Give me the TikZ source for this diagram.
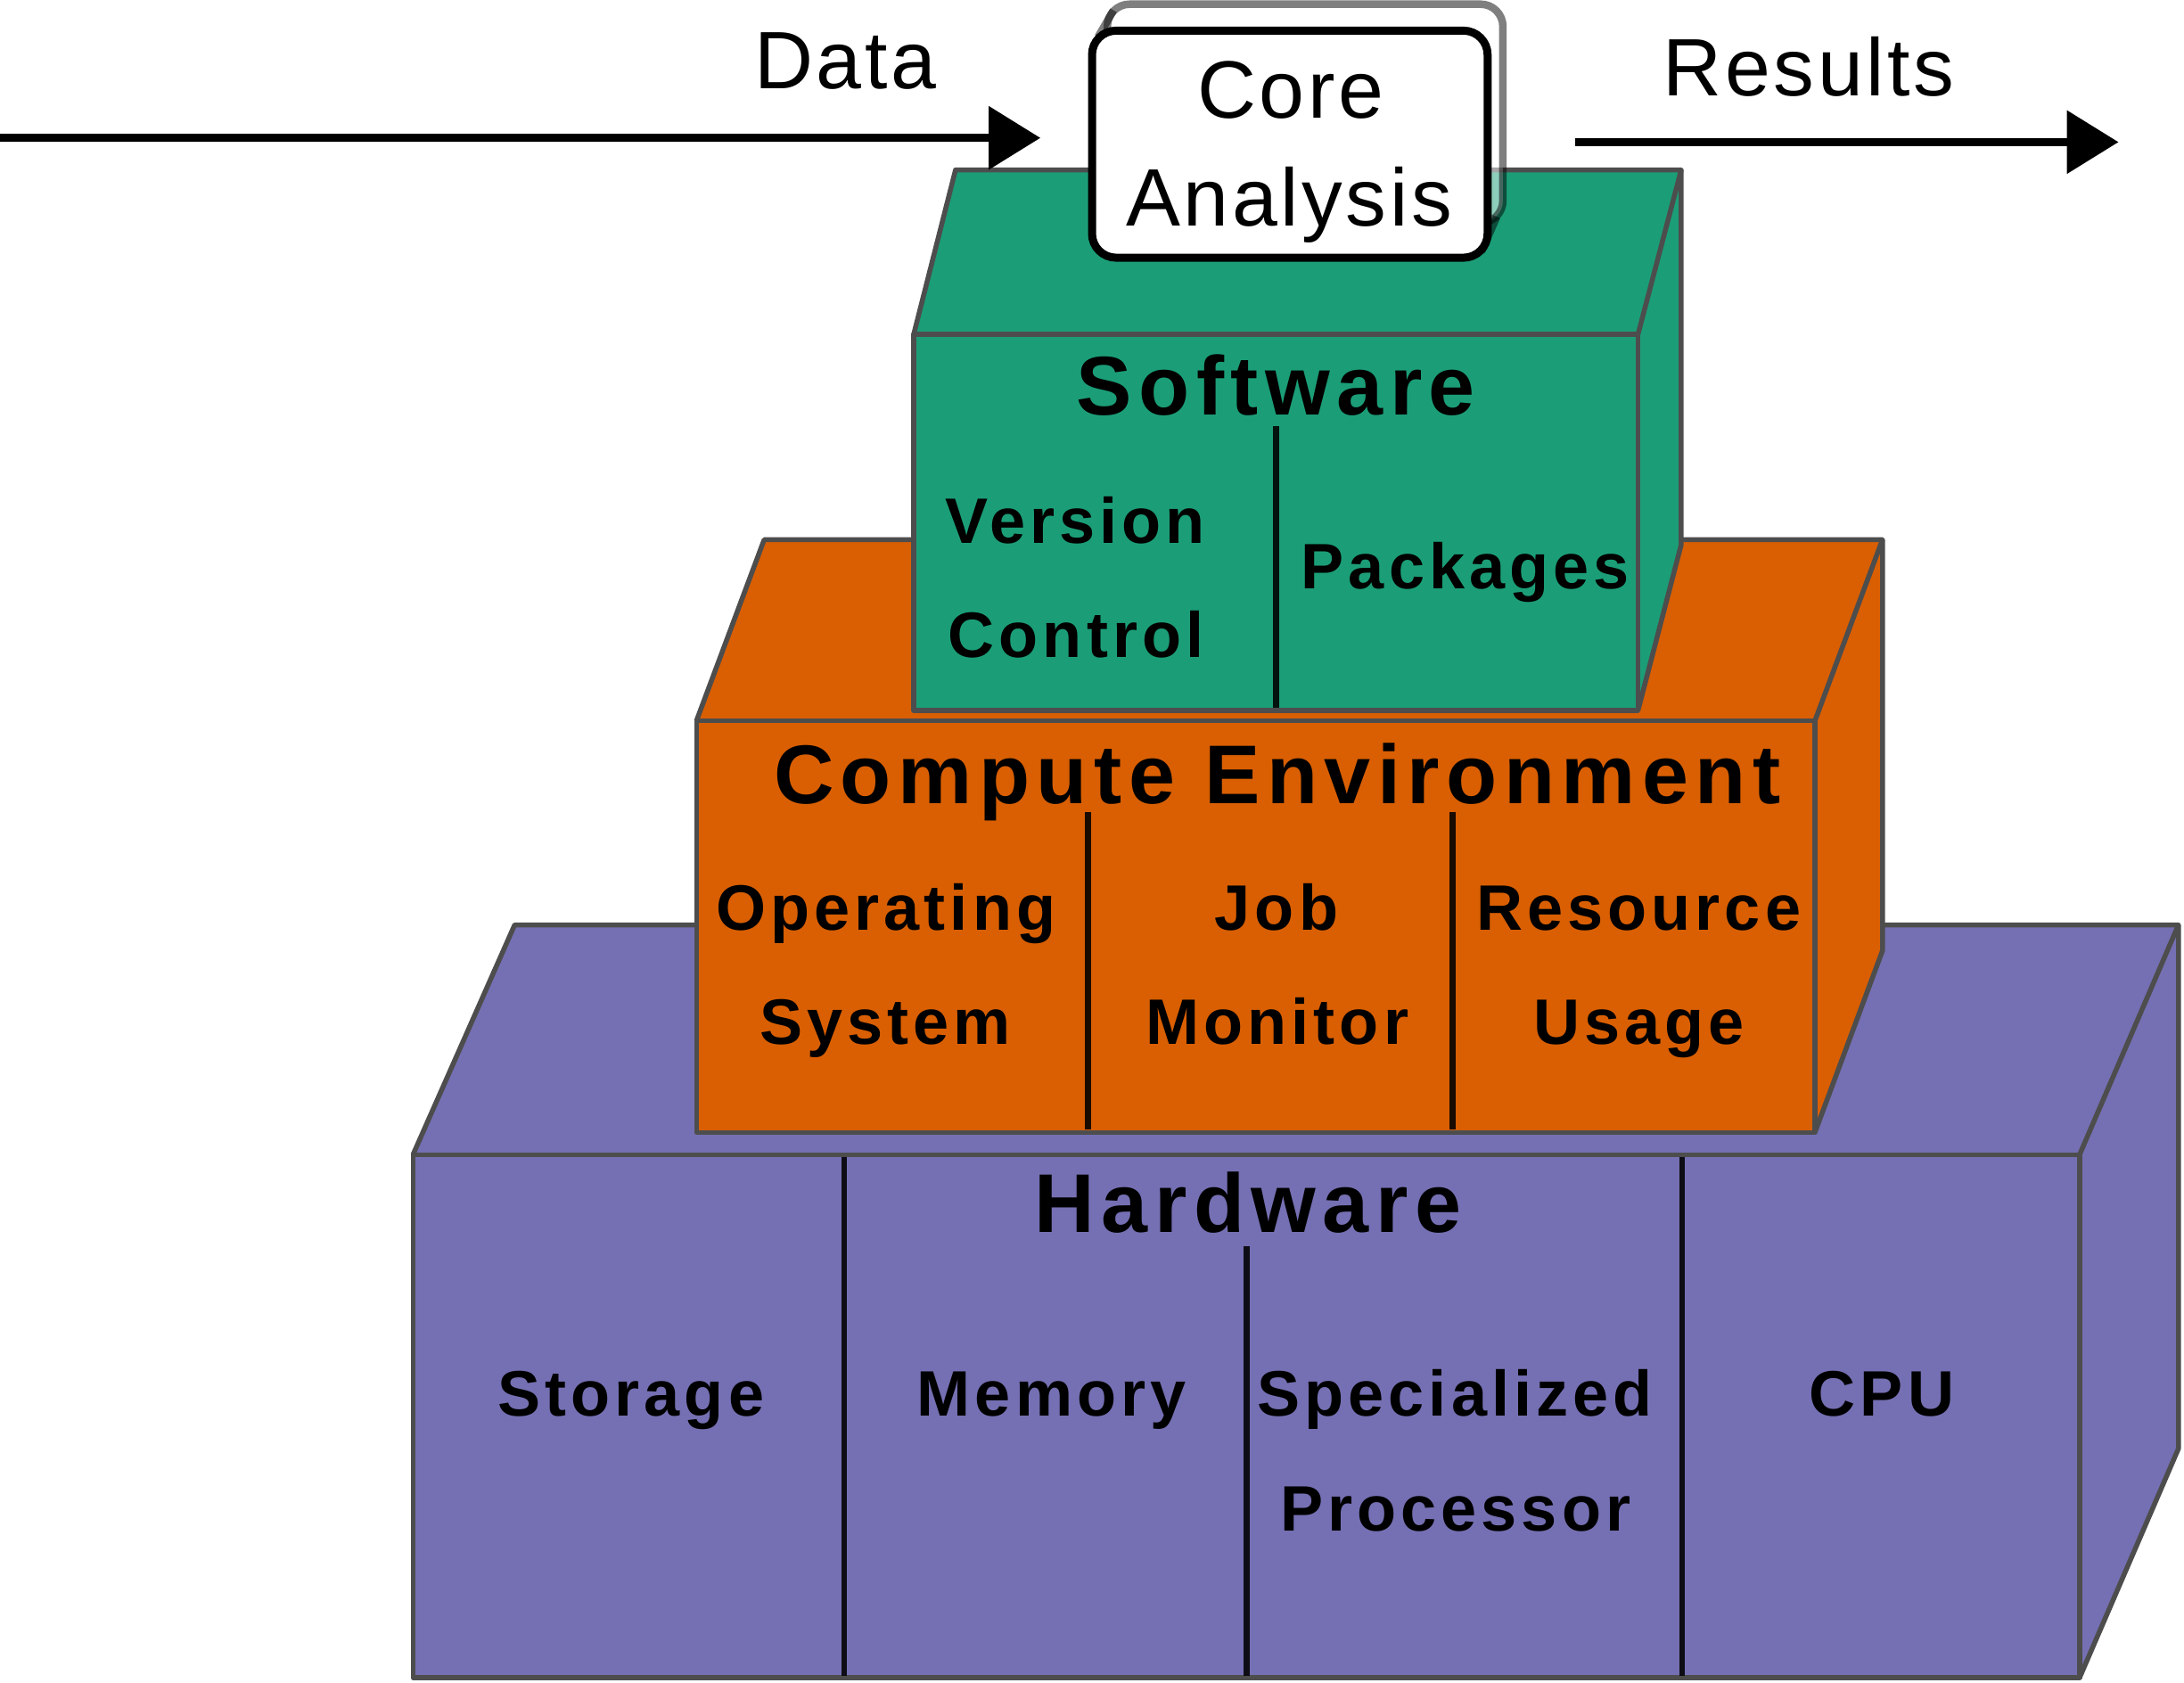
\documentclass[tikz,border=0pt]{standalone}
\usepackage{fontspec}
\setmainfont{Liberation Sans}
\newfontfamily\plainls{Liberation Sans}[LetterSpace=4]
\newfontfamily\titlels{Liberation Sans}[LetterSpace=8]
\newfontfamily\labls{Liberation Sans}[LetterSpace=7]
\usetikzlibrary{arrows.meta}
\definecolor{hwcol}{HTML}{7570B3}
\definecolor{cecol}{HTML}{D95F02}
\definecolor{swcol}{HTML}{1B9E77}
\definecolor{edgecol}{HTML}{4D4D4D}
\begin{document}
\begin{tikzpicture}[x=0.015625cm,y=-0.015625cm,
  face/.style={draw=edgecol,line width=0.055cm,line join=round},
  divider/.style={draw=black,draw opacity=0.88,line width=0.065cm},
  title/.style={anchor=base,inner sep=0pt,font=\titlels\bfseries\fontsize{26.6pt}{30pt}\selectfont},
  lab/.style={anchor=base,inner sep=0pt,font=\labls\bfseries\fontsize{20.5pt}{24pt}\selectfont},
  plain/.style={anchor=base,inner sep=0pt,font=\plainls\fontsize{26pt}{30pt}\selectfont},
  flow/.style={draw=black,line width=0.095cm,-{Triangle[length=0.58cm,width=0.69cm]}}]
\useasboundingbox[fill=white] (0,0) rectangle (1568,1207.68);

% ---------- Hardware ----------
\fill[hwcol] (296.5,829) -- (369.5,664) -- (1564,664) -- (1564,1040) -- (1493,1204.5) -- (296.5,1204.5) -- cycle;
\draw[face] (296.5,829) rectangle (1493,1204.5);
\draw[face] (296.5,829) -- (369.5,664) -- (1564,664) -- (1493,829);
\draw[face] (1564,664) -- (1564,1040) -- (1493,1204.5);
\draw[divider] (606,831) -- (606,1203);
\draw[divider] (895,895) -- (895,1203);
\draw[divider] (1207.5,831) -- (1207.5,1203);

% ---------- Compute environment ----------
\fill[cecol] (500,517.5) -- (548.6,387.5) -- (1351.5,387.5) -- (1351.5,682.6) -- (1303,813) -- (500,813) -- cycle;
\draw[face] (500,517.5) rectangle (1303,813);
\draw[face] (500,517.5) -- (548.6,387.5) -- (1351.5,387.5) -- (1303,517.5);
\draw[face] (1351.5,387.5) -- (1351.5,682.6) -- (1303,813);
\draw[divider] (781,583) -- (781,811);
\draw[divider] (1043,583) -- (1043,811);

% ---------- Software ----------
\fill[swcol] (656,240) -- (686,122) -- (1207,122) -- (1207,391) -- (1176,510) -- (656,510) -- cycle;
\draw[face] (656,240) rectangle (1176,510);
\draw[face] (656,240) -- (686,122) -- (1207,122) -- (1176,240);
\draw[face] (1207,122) -- (1207,391) -- (1176,510);
\draw[divider] (916,306) -- (916,508);

% ---------- Core analysis box ----------
\draw[draw=black,draw opacity=0.5,fill=white,fill opacity=0.5,line width=0.085cm,rounded corners=0.25cm] (795,3) rectangle (1079,160);
\draw[draw=black,draw opacity=0.5,line width=0.085cm] (788.4,26.4) -- (799.4,7.4);
\draw[draw=black,draw opacity=0.5,line width=0.085cm] (1063.6,180.6) -- (1074.6,155.6);
\draw[draw=black,fill=white,line width=0.09cm,rounded corners=0.27cm] (784,22) rectangle (1068,185);

% ---------- Flow arrows ----------
\coordinate (dataStart) at (0,99);
\coordinate (dataEnd) at (747,99);
\coordinate (resStart) at (1131,102);
\coordinate (resEnd) at (1521,102);
\draw[flow] (dataStart) -- (dataEnd);
\draw[flow] (resStart) -- (resEnd);

% ---------- Texts ----------
\node[plain] (data) at (607,63.4) {Data};
\node[plain] (results) at (1298.6,68.7) {Results};
\node[plain] (coreA) at (926.5,85) {Core};
\node[plain] (coreB) at (925.5,162) {Analysis};

\node[title] (sw) at (916,298) {Software};
\node[lab] (vc1) at (772,390) {Version};
\node[lab] (vc2) at (772.5,472) {Control};
\node[lab] (pk) at (1052,422.6) {Packages};

\node[title] (ce) at (917,577) {Compute Environment};
\node[lab] (os1) at (636,667.5) {Operating};
\node[lab] (os2) at (635.5,750) {System};
\node[lab] (jm1) at (916.5,667.5) {Job};
\node[lab] (jm2) at (917,750) {Monitor};
\node[lab] (ru1) at (1176.5,667.5) {Resource};
\node[lab] (ru2) at (1176.5,750) {Usage};

\node[title] (hw) at (896,885) {Hardware};
\node[lab] (st) at (453,1016.5) {Storage};
\node[lab] (me) at (755,1016.5) {Memory};
\node[lab] (sp1) at (1044.5,1016.5) {Specialized};
\node[lab] (sp2) at (1045,1099) {Processor};
\node[lab] (cpu) at (1351,1016.5) {CPU};
\end{tikzpicture}
\end{document}
